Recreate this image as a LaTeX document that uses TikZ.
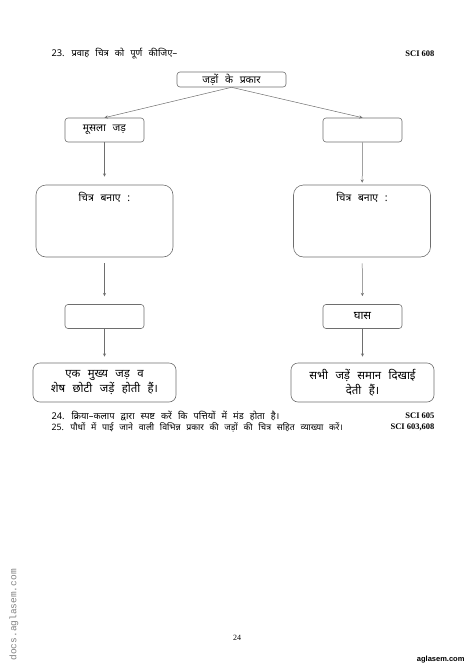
\documentclass[tikz,border=0pt]{standalone}
\usepackage{fontspec}
\setmainfont{Liberation Serif}
\newfontfamily\hindi[Script=Devanagari, WordSpace=2.5]{Noto Sans}
\newfontfamily\monofont{Liberation Mono}
\newfontfamily\sansfont{Liberation Sans}
\usetikzlibrary{arrows.meta,calc,positioning}
\definecolor{BoxGray}{RGB}{110,110,110}

\begin{document}
\begin{tikzpicture}[x=1pt, y=-1pt, font=\hindi\fontsize{9.3}{10}\selectfont,
  box/.style={draw=BoxGray, rounded corners=3pt, line width=0.6pt, minimum width=79pt, minimum height=24pt, inner sep=0pt},
  bigbox/.style={draw=BoxGray, rounded corners=10pt, line width=0.6pt, minimum width=137pt, minimum height=72pt, inner sep=0pt},
  txtbox/.style={draw=BoxGray, rounded corners=7pt, line width=0.6pt, minimum width=143pt, minimum height=39pt, inner sep=0pt, align=center},
  link/.style={->, >=stealth, BoxGray, line width=0.5pt}]
  \useasboundingbox (0,0) rectangle (474,670);

  % Question header
  \node[anchor=west] (q23) at (48,54) {23. प्रवाह चित्र को पूर्ण कीजिए–};
  \node[anchor=east, font=\bfseries\fontsize{8.5}{10}\selectfont] (sci23) at (438,54) {SCI 608};

  % Top box
  \node[box, minimum width=109pt, minimum height=15pt, font=\hindi\fontsize{10.4}{10}\selectfont] (types) at (231.5,79.5) {जड़ों के प्रकार};

  % Second row
  \node[box, font=\hindi\fontsize{10.4}{10}\selectfont] (tap) at (104.5,130) {मूसला जड़};
  \node[box] (fib) at (362.5,130) {};

  % Drawing boxes
  \node[bigbox] (drawL) at (104.5,221) {};
  \node[bigbox] (drawR) at (362,221) {};
  \node[font=\hindi\fontsize{10.4}{10}\selectfont] (drawLt) at (104.5,197) {चित्र बनाए :};
  \node[font=\hindi\fontsize{10.4}{10}\selectfont] (drawRt) at (362,197) {चित्र बनाए :};

  % Third row
  \node[box] (nameL) at (104.5,316.5) {};
  \node[box, font=\hindi\fontsize{11.4}{10}\selectfont] (grass) at (362.5,316.5) {घास};

  % Bottom boxes
  \node[txtbox, font=\hindi\fontsize{11.4}{15}\selectfont] (descL) at (104.5,382.5) {एक मुख्य जड़ व\\शेष छोटी जड़ें होती हैं।};
  \node[txtbox, font=\hindi\fontsize{11.4}{15}\selectfont] (descR) at (362.5,382.5) {सभी जड़ें समान दिखाई\\देती हैं।};

  % Connectors
  \draw[link] (types.south) -- (tap.north);
  \draw[link] (types.south) -- (fib.north);
  \draw[link, shorten >=8pt] (tap) -- (drawL);
  \draw[link, shorten >=2pt] (fib) -- (drawR);
  \draw[link, shorten <=6pt, shorten >=8pt] (drawL) -- (nameL);
  \draw[link, shorten <=6pt, shorten >=8pt] (drawR) -- (grass);
  \draw[link, shorten >=6pt] (nameL) -- (descL);
  \draw[link, shorten >=6pt] (grass) -- (descR);

  % Further questions
  \node[anchor=west, font=\hindi\fontsize{9.3}{9}\selectfont] (q24) at (48,416) {24. क्रिया–कलाप द्वारा स्पष्ट करें कि पत्तियों में मंड होता है।};
  \node[anchor=east, font=\bfseries\fontsize{8.5}{10}\selectfont] (sci24) at (438,416) {SCI 605};
  \node[anchor=west, font=\hindi\fontsize{8.8}{9}\selectfont] (q25) at (48,427) {25. पौधों में पाई जाने वाली विभिन्न प्रकार की जड़ों की चित्र सहित व्याख्या करें।};
  \node[anchor=east, font=\bfseries\fontsize{8.5}{10}\selectfont] (sci25) at (438,427) {SCI 603,608};

  % Footer
  \node[font=\fontsize{8}{10}\selectfont] (page) at (237,638) {24};
  \node[anchor=east, font=\sansfont\bfseries\fontsize{7.5}{9}\selectfont] (brand) at (468,660) {aglasem.com};
  \node[anchor=west, rotate=90, gray, font=\monofont\fontsize{9.5}{9}\selectfont] (mark) at (14,664) {docs.aglasem.com};
\end{tikzpicture}
\end{document}
